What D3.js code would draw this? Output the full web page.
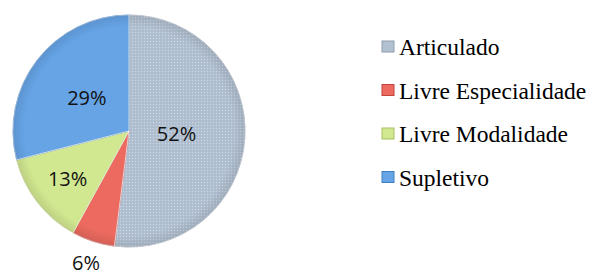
<!DOCTYPE html>
<html>
<head>
<meta charset="utf-8">
<script src="https://cdn.jsdelivr.net/npm/d3@7"></script>
<style>
  body { margin: 0; background: #fff; }
  svg { display: block; }
  .legend-text { font-family: "Liberation Serif", "Times New Roman", Times, serif; }
</style>
</head>
<body>
<svg id="chart" width="592" height="275"></svg>
<script>
const categories = ["Articulado", "Livre Especialidade", "Livre Modalidade", "Supletivo"];
const values = [52, 6, 13, 29];
const labels = ["52%", "6%", "13%", "29%"];
const colors = ["#b2c1d2", "#ec6a5f", "#d2e890", "#66a4e6"];
const edgeColors = ["#8f9cad", "#c0453f", "#a8bf62", "#3f7fc0"];
// where each label sits, as a fraction of the radius
const labelRadius = [0.41, 1.2, 0.67, 0.46];

const svg = d3.select("#chart");
const cx = 129, cy = 131, radius = 116;

const defs = svg.append("defs");
const pat = defs.append("pattern")
    .attr("id", "dots")
    .attr("width", 3).attr("height", 3)
    .attr("patternUnits", "userSpaceOnUse");
pat.append("rect").attr("width", 3).attr("height", 3).attr("fill", colors[0]);
pat.append("rect").attr("width", 1).attr("height", 1).attr("fill", "#ccd7e3");
pat.append("rect").attr("x", 1.5).attr("y", 1.5).attr("width", 1).attr("height", 1).attr("fill", "#a3b2c4");

const shade = defs.append("radialGradient").attr("id", "shade")
    .attr("cx", "50%").attr("cy", "50%").attr("r", "50%");
shade.append("stop").attr("offset", "0.9").attr("stop-color", "#000").attr("stop-opacity", 0);
shade.append("stop").attr("offset", "1").attr("stop-color", "#000").attr("stop-opacity", 0.1);

const pie = d3.pie().sort(null).value(d => d);
const arc = d3.arc().innerRadius(0).outerRadius(radius);
const arcs = pie(values);

const g = svg.append("g").attr("transform", `translate(${cx},${cy})`);

g.selectAll("path.slice")
    .data(arcs)
    .enter()
    .append("path")
    .attr("class", "slice")
    .attr("d", arc)
    .attr("fill", (d, i) => i === 0 ? "url(#dots)" : colors[i])
    .attr("stroke", (d, i) => edgeColors[i])
    .attr("stroke-width", 1);

g.append("circle")
    .attr("r", radius)
    .attr("fill", "url(#shade)")
    .attr("pointer-events", "none");

g.selectAll("path.edge")
    .data(arcs)
    .enter()
    .append("path")
    .attr("d", arc)
    .attr("fill", "none")
    .attr("stroke", "rgba(255,255,255,0.6)")
    .attr("stroke-width", 0.8);

g.selectAll("text.pct")
    .data(arcs)
    .enter()
    .append("text")
    .attr("class", "pct")
    .attr("transform", (d, i) => {
        const r = radius * labelRadius[i];
        return `translate(${d3.arc().innerRadius(r).outerRadius(r).centroid(d)})`;
    })
    .attr("text-anchor", "middle")
    .attr("dy", "0.35em")
    .style("font-family", "'Open Sans', 'Liberation Sans', sans-serif")
    .style("font-size", "20px")
    .style("fill", "#111")
    .text((d, i) => labels[i]);

const legend = svg.append("g").attr("transform", "translate(382,47)");
const row = legend.selectAll("g")
    .data(categories)
    .enter()
    .append("g")
    .attr("transform", (d, i) => `translate(0,${i * 43.5})`);

row.append("rect")
    .attr("x", 0).attr("y", -6)
    .attr("width", 12).attr("height", 11)
    .attr("fill", (d, i) => colors[i])
    .attr("stroke", (d, i) => edgeColors[i])
    .attr("stroke-width", 1);

row.append("text")
    .attr("class", "legend-text")
    .attr("x", 17)
    .attr("dy", "0.35em")
    .attr("font-size", 23.5)
    .attr("fill", "#000")
    .text(d => d);
</script>
</body>
</html>
